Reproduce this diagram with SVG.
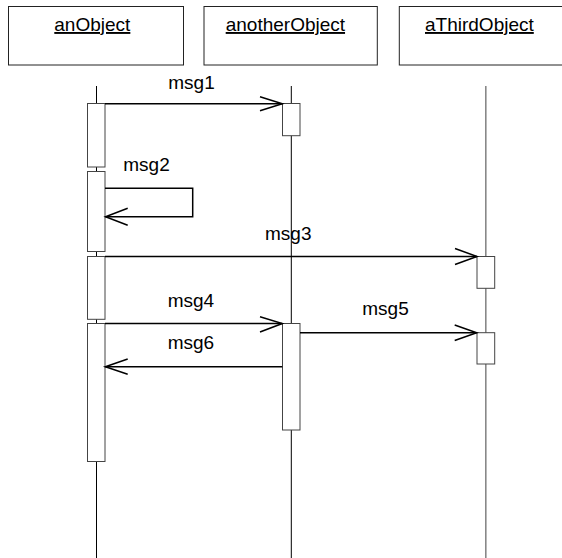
<svg xmlns="http://www.w3.org/2000/svg" width="562" height="558" viewBox="0 0 562 558">
<style>
.box{fill:#fff;stroke:#222;stroke-width:1}
.name{font-family:"Liberation Sans",Arial,sans-serif;font-size:19px;fill:#000;text-decoration:underline}
.life{stroke:#000;stroke-width:1;fill:none}
.life3{stroke:#888;stroke-width:1.6;fill:none}
.act{fill:#fff;stroke:#444;stroke-width:1}
.msg{stroke:#000;stroke-width:1.5;fill:none}
.head{stroke:#000;stroke-width:1.5;fill:none;stroke-linejoin:miter}
.lbl{font-family:"Liberation Sans",Arial,sans-serif;font-size:19px;fill:#000}
</style>
<rect width="562" height="558" fill="#fff"/>
<g id="anObject">
<rect class="box" x="8.5" y="6.5" width="175" height="58.5"/>
<text class="name" x="54.3" y="31">anObject</text>
<line class="life" x1="96.5" y1="86" x2="96.5" y2="558"/>
<rect class="act" x="87.5" y="103.5" width="17.5" height="63.5"/>
<rect class="act" x="87.5" y="171.5" width="17.5" height="80"/>
<rect class="act" x="87.5" y="256.5" width="17.5" height="62.8"/>
<rect class="act" x="87.5" y="323.5" width="17.5" height="138"/>
</g>
<g id="anotherObject">
<rect class="box" x="204" y="6.5" width="173.3" height="58.5"/>
<text class="name" x="225.7" y="31">anotherObject</text>
<line class="life" x1="291.3" y1="86" x2="291.3" y2="558"/>
<rect class="act" x="282.5" y="103.5" width="17.5" height="32.2"/>
<rect class="act" x="282.5" y="323.5" width="17.5" height="106.5"/>
</g>
<g id="aThirdObject">
<rect class="box" x="399.3" y="6.5" width="180" height="58.5"/>
<text class="name" x="425" y="31">aThirdObject</text>
<line class="life3" x1="485.8" y1="86" x2="485.8" y2="558"/>
<rect class="act" x="477" y="256.5" width="17.7" height="31.8"/>
<rect class="act" x="477" y="332.7" width="17.7" height="31.3"/>
</g>
<g id="connectors">
<line class="msg" x1="105" y1="103.7" x2="282.3" y2="103.7"/>
<polyline class="head" points="260,96.7 282.3,103.7 260,110.7"/>
<text class="lbl" x="168.3" y="89.3">msg1</text>
<polyline class="msg" points="105,188.3 192.7,188.3 192.7,216.7 105.5,216.7"/>
<polyline class="head" points="127.7,208.3 105.5,216.7 127.7,225.3"/>
<text class="lbl" x="123.3" y="170.7">msg2</text>
<line class="msg" x1="105" y1="256.5" x2="477" y2="256.5"/>
<polyline class="head" points="455,248.5 477,256.5 455,264.5"/>
<text class="lbl" x="265" y="240">msg3</text>
<line class="msg" x1="105" y1="323.5" x2="282.3" y2="323.5"/>
<polyline class="head" points="260,316.7 282.3,323.5 260,332"/>
<text class="lbl" x="167.7" y="306.7">msg4</text>
<line class="msg" x1="300" y1="332.7" x2="476.7" y2="332.7"/>
<polyline class="head" points="454.7,325 476.7,332.7 454.7,340.5"/>
<text class="lbl" x="362.3" y="315">msg5</text>
<line class="msg" x1="282.3" y1="366.7" x2="105.3" y2="366.7"/>
<polyline class="head" points="127.7,359 105.3,366.7 127.7,374.3"/>
<text class="lbl" x="167.7" y="349.3">msg6</text>
</g>
</svg>
